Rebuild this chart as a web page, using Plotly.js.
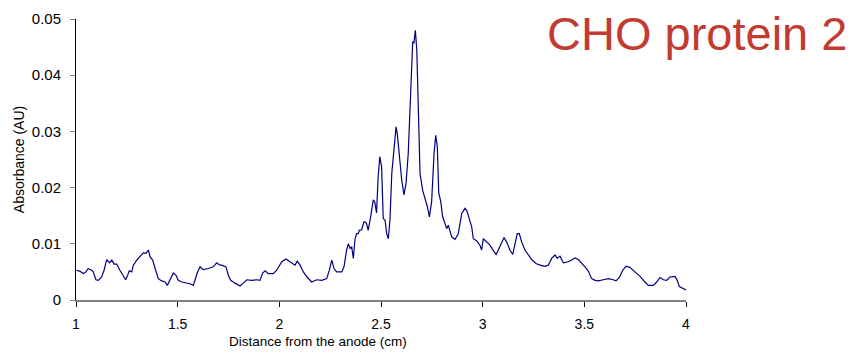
<!DOCTYPE html>
<html>
<head>
<meta charset="utf-8">
<script src="https://cdn.plot.ly/plotly-3.0.1.min.js"></script>
<style>html,body{margin:0;padding:0;background:#fff;}#chart{width:857px;height:356px;}</style>
</head>
<body>
<div id="chart"></div>
<script>
// Distance from the anode (cm)
const distance = [1.003,1.020,1.036,1.049,1.060,1.077,1.085,1.098,1.110,1.126,1.138,1.151,1.164,1.176,1.188,1.200,1.216,1.233,1.244,1.254,1.262,1.274,1.282,1.299,1.315,1.331,1.344,1.356,1.364,1.377,1.389,1.405,1.421,1.438,1.449,1.462,1.479,1.492,1.503,1.520,1.544,1.561,1.577,1.585,1.597,1.610,1.626,1.651,1.675,1.692,1.708,1.717,1.738,1.749,1.761,1.782,1.807,1.823,1.840,1.864,1.889,1.905,1.918,1.930,1.946,1.970,1.987,2.012,2.033,2.052,2.077,2.088,2.102,2.118,2.138,2.159,2.184,2.208,2.233,2.246,2.258,2.269,2.282,2.307,2.318,2.331,2.339,2.348,2.356,2.364,2.372,2.380,2.388,2.393,2.405,2.416,2.421,2.429,2.437,2.449,2.462,2.469,2.478,2.486,2.494,2.503,2.511,2.520,2.528,2.536,2.544,2.553,2.564,2.574,2.580,2.590,2.602,2.613,2.623,2.634,2.646,2.656,2.662,2.669,2.676,2.683,2.692,2.705,2.716,2.728,2.738,2.749,2.761,2.769,2.777,2.784,2.794,2.803,2.815,2.823,2.831,2.848,2.864,2.880,2.897,2.908,2.913,2.922,2.934,2.946,2.954,2.971,2.987,2.995,3.003,3.016,3.033,3.049,3.066,3.077,3.094,3.105,3.118,3.134,3.148,3.159,3.170,3.180,3.192,3.208,3.224,3.241,3.262,3.282,3.307,3.323,3.339,3.356,3.367,3.380,3.397,3.421,3.438,3.454,3.470,3.487,3.503,3.519,3.536,3.553,3.569,3.593,3.618,3.642,3.656,3.672,3.689,3.705,3.724,3.749,3.774,3.798,3.815,3.839,3.856,3.872,3.889,3.905,3.921,3.946,3.957,3.967,3.979,3.995,4.000];
// Absorbance (AU)
const absorbance = [.0053,.0051,.0047,.0050,.0056,.0053,.0050,.0036,.0035,.0041,.0053,.0072,.0066,.0071,.0064,.0064,.0053,.0041,.0036,.0044,.0052,.0050,.0062,.0071,.0077,.0084,.0083,.0089,.0077,.0071,.0056,.0038,.0034,.0032,.0026,.0035,.0048,.0044,.0035,.0032,.0030,.0029,.0026,.0035,.0049,.0059,.0054,.0056,.0059,.0066,.0062,.0062,.0059,.0044,.0035,.0030,.0025,.0030,.0036,.0035,.0036,.0035,.0048,.0052,.0047,.0047,.0053,.0068,.0073,.0068,.0062,.0069,.0062,.0050,.0040,.0032,.0036,.0035,.0038,.0053,.0071,.0056,.0050,.0050,.0059,.0089,.0100,.0092,.0094,.0074,.0108,.0118,.0118,.0124,.0125,.0139,.0139,.0136,.0124,.0148,.0178,.0175,.0155,.0219,.0255,.0237,.0145,.0142,.0118,.0109,.0142,.0225,.0273,.0308,.0296,.0255,.0213,.0187,.0207,.0261,.0368,.0460,.0457,.0480,.0445,.0344,.0225,.0195,.0183,.0166,.0148,.0175,.0261,.0293,.0273,.0190,.0175,.0148,.0136,.0127,.0133,.0112,.0108,.0118,.0154,.0161,.0163,.0159,.0145,.0130,.0109,.0105,.0097,.0089,.0109,.0105,.0099,.0090,.0081,.0089,.0103,.0111,.0103,.0089,.0081,.0100,.0118,.0118,.0103,.0089,.0080,.0072,.0065,.0062,.0060,.0062,.0074,.0080,.0074,.0078,.0066,.0068,.0071,.0075,.0072,.0066,.0059,.0052,.0038,.0035,.0034,.0036,.0038,.0036,.0034,.0040,.0053,.0060,.0058,.0050,.0042,.0032,.0026,.0026,.0032,.0040,.0036,.0035,.0041,.0042,.0035,.0024,.0022,.0020,.0018];

const xTickVals = [1, 1.5, 2, 2.5, 3, 3.5, 4];
const xTickText = ["1", "1.5", "2", "2.5", "3", "3.5", "4"];
const yTickVals = [0, 0.01, 0.02, 0.03, 0.04, 0.05];
const yTickText = ["0", "0.01", "0.02", "0.03", "0.04", "0.05"];

const chartTitle = "CHO protein 2";
const xTitle = "Distance from the anode (cm)";
const yTitle = "Absorbance (AU)";

const FONT = "'Liberation Sans', Arial, sans-serif";

const trace = {
  x: distance, y: absorbance, type: 'scatter', mode: 'lines',
  line: {color: '#00007f', width: 1.2, shape: 'linear'},
  hoverinfo: 'skip', showlegend: false
};

const layout = {
  width: 857, height: 356,
  margin: {l: 76, r: 171, t: 19, b: 56, pad: 0},
  paper_bgcolor: '#ffffff', plot_bgcolor: '#ffffff',
  font: {family: FONT, color: '#000000'},
  xaxis: {
    range: [1, 4], tickmode: 'array', tickvals: xTickVals, ticktext: xTickText,
    ticks: 'outside', ticklen: 5, tickwidth: 1, tickcolor: '#000000',
    showline: true, linecolor: '#808080', linewidth: 2,
    showgrid: false, zeroline: false,
    tickfont: {family: FONT, size: 14, color: '#000000'},
    ticklabelstandoff: 5
  },
  yaxis: {
    range: [0, 0.05], tickmode: 'array', tickvals: yTickVals, ticktext: yTickText,
    ticks: 'outside', ticklen: 5, tickwidth: 1, tickcolor: '#808080',
    showline: true, linecolor: '#000000', linewidth: 1,
    showgrid: false, zeroline: false,
    tickfont: {family: FONT, size: 15, color: '#000000'},
    ticklabelstandoff: 6,
    title: {text: yTitle, font: {family: FONT, size: 14, color: '#000000'}, standoff: 3}
  },
  annotations: [
    {text: xTitle, xref: 'paper', yref: 'paper', x: 0.3975, y: -0.147,
     xanchor: 'center', yanchor: 'middle', showarrow: false,
     font: {family: FONT, size: 13.5, color: '#000000'}},
    {text: chartTitle, xref: 'paper', yref: 'paper', x: 1.018, y: 0.95,
     xanchor: 'center', yanchor: 'middle', showarrow: false,
     font: {family: FONT, size: 47, color: '#c23b30'}}
  ]
};

Plotly.newPlot('chart', [trace], layout, {displayModeBar: false, staticPlot: true});
</script>
</body>
</html>
